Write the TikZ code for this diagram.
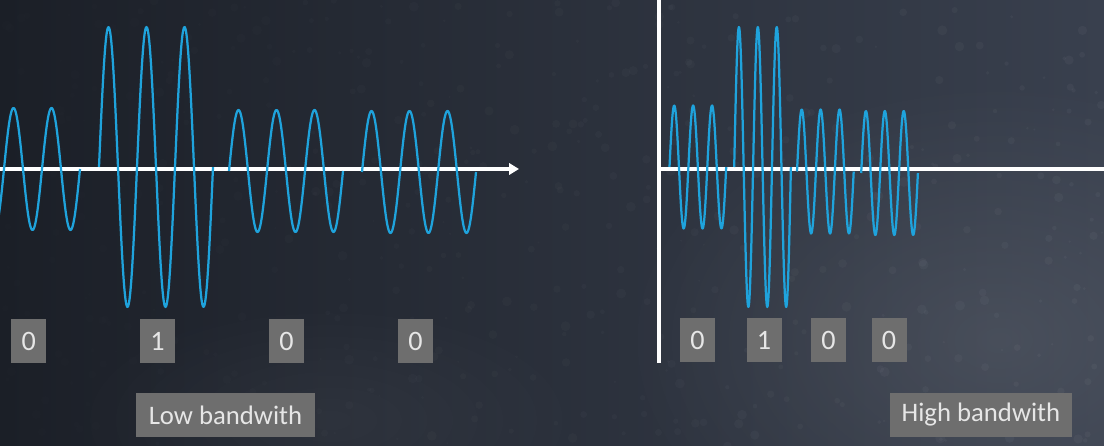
\documentclass[tikz,border=0pt]{standalone}
\usepackage{fontspec}
\setmainfont{Carlito}
\usetikzlibrary{arrows.meta,fadings}
\definecolor{bgdark}{HTML}{1B1F27}
\definecolor{bgmid}{HTML}{252A33}
\definecolor{bglight}{HTML}{39404E}
\definecolor{carrier}{HTML}{1FA3DC}
\definecolor{bitbox}{HTML}{6E6E6E}
\definecolor{bittext}{HTML}{E6E6E6}
\tikzfading[name=softspot, inner color=transparent!0,
            outer color=transparent!100]

\begin{document}
\begin{tikzpicture}[
    x=0.025cm, y=-0.025cm,
    wave/.style={carrier, line width=1.6pt, line join=round},
    axisline/.style={white, line width=2.2pt},
    bit/.style={fill=bitbox, text=bittext, minimum width=0.875cm,
                minimum height=1.1cm, inner sep=0pt,
                font=\fontsize{20}{24}\selectfont},
    caption/.style={bit, font=\fontsize{19}{23}\selectfont},
]
\useasboundingbox (0,0) rectangle (1104,446);
\clip (0,0) rectangle (1104,446);

% ---- slate background ----
\shade[left color=bgdark, middle color=bgmid, right color=bglight]
    (0,0) rectangle (1104,446);
\fill[bglight!75!white, opacity=0.35, path fading=softspot]
    (1000,340) ellipse (380 and 260);
\fill[bglight!70!white, opacity=0.12, path fading=softspot]
    (330,420) ellipse (260 and 120);
\pgfmathsetseed{42}
\foreach \i in {1,...,500} {
    \pgfmathsetmacro{\px}{rnd*1104}
    \pgfmathsetmacro{\py}{rnd*446}
    \pgfmathsetmacro{\op}{0.006+0.03*\px/1104}
    \fill[white, opacity=\op] (\px,\py) circle ({1+rnd*4});
}

% ---- Panel A: low bandwidth ----
\coordinate (lorg) at (0,169);
\coordinate (lend) at (519,169);
\draw[axisline, -{Triangle[length=7pt,width=8pt]}] (lorg) -- (lend);
% one burst of three periods per bit
\foreach \s/\c/\a [evaluate=\s as \e using \s+114] in
        {-34/169/61, 99/167/140, 229/171/61, 362/172/61} {
    \draw[wave] plot[domain=\s:\e, samples=150, smooth]
        (\x, {\c - \a*sin(360/38*(\x-\s))});
}
\foreach \x/\b [count=\i] in {28.7/0, 157.5/1, 286.5/0, 415.5/0} {
    \node[bit] (lbit\i) at (\x,341) {\b};
}
\node[caption, minimum width=4.475cm] (lowbw) at (225.5,415) {Low bandwith};

% ---- Panel B: high bandwidth ----
\coordinate (rtop) at (659,0);
\coordinate (rbot) at (659,363);
\coordinate (rorg) at (659,169);
\coordinate (rend) at (1104,169);
\draw[axisline] (rtop) -- (rbot);
\draw[axisline] (rorg) -- (rend);
\foreach \s/\c/\a [evaluate=\s as \e using \s+56.7] in
        {669.5/167/61.5, 734.2/167/140, 797/171.5/62, 861.2/173/62} {
    \draw[wave] plot[domain=\s:\e, samples=150, smooth]
        (\x, {\c - \a*sin(360/18.9*(\x-\s))});
}
\foreach \x/\b [count=\i] in {697.5/0, 764/1, 828.5/0, 889/0} {
    \node[bit] (rbit\i) at (\x,340) {\b};
}
\node[caption, minimum width=4.55cm] (highbw) at (981,415) {High bandwith};
\end{tikzpicture}
\end{document}
